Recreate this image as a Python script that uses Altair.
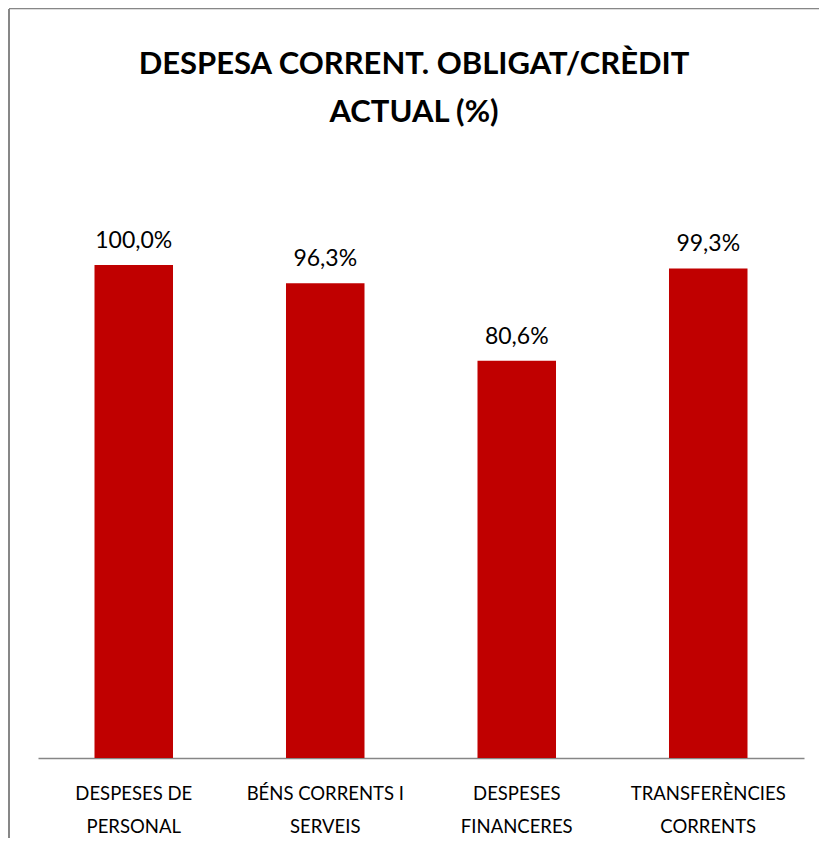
import altair as alt
import pandas as pd

categories = ["Despeses de|personal", "Béns corrents i|serveis", "Despeses|financeres", "Transferències|corrents"]
values = [100.0, 96.3, 80.6, 99.3]
title_lines = ["DESPESA CORRENT. OBLIGAT/CRÈDIT", "ACTUAL (%)"]

df = pd.DataFrame({"cat": categories, "val": values})

W, H = 810, 829
FONT = "Lato"
FRAME = "#878787"

x = alt.X("cat:N", sort=categories, title=None,
          scale=alt.Scale(range=[29, 795], paddingInner=0.59, paddingOuter=0.295),
          axis=alt.Axis(orient="bottom", offset=-(H - 749), domainColor="#868686",
                        domainWidth=1.5, ticks=False, labelAngle=0,
                        labelExpr="split(upper(datum.label), '|')",
                        labelFont=FONT, labelFontSize=18.5, labelColor="#000000",
                        labelBaseline="alphabetic", labelPadding=41,
                        labelLineHeight=33, labelLimit=300))
y = alt.Y("val:Q", title=None, axis=None,
          scale=alt.Scale(domain=[0, 100], range=[749, 256], nice=False, zero=True))

base = alt.Chart(df)
bars = base.mark_bar(color="#C00000").encode(x=x, y=y)
labels = base.transform_calculate(
    lab="replace(format(datum.val, '.1f'), '.', ',') + '%'"
).mark_text(font=FONT, fontSize=23, color="#000000", baseline="alphabetic", dy=-17).encode(
    x=alt.X("cat:N", sort=categories), y="val:Q", text="lab:N")

frame_left = alt.Chart(df).mark_rule(color=FRAME, strokeWidth=2).encode(
    x=alt.value(0), y=alt.value(0), y2=alt.value(H + 20))
frame_top = alt.Chart(df).mark_rule(color=FRAME, strokeWidth=2).encode(
    y=alt.value(-1), x=alt.value(0), x2=alt.value(W + 20))

chart = alt.layer(frame_left, frame_top, bars, labels).properties(
    width=W, height=H,
    title=alt.TitleParams(text=title_lines, font=FONT, fontSize=31, fontWeight="bold",
                          color="#000000", anchor="middle", offset=-122, lineHeight=48,
                          dx=0),
    autosize=alt.AutoSizeParams(type="none"),
    padding={"left": 1, "top": 1, "right": 0, "bottom": 0},
).configure_view(stroke=None, fill="white").configure(background="white")

chart.save("out.html", embed_options={"renderer": "svg", "actions": False})
